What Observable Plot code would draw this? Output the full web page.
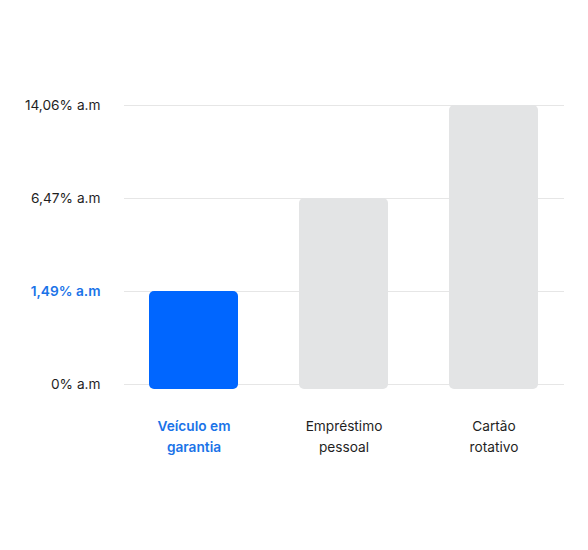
<!DOCTYPE html>
<html>
<head>
<meta charset="utf-8">
<script src="https://cdn.jsdelivr.net/npm/d3@7"></script>
<script src="https://cdn.jsdelivr.net/npm/@observablehq/plot@0.6"></script>
<style>
  html, body { margin: 0; padding: 0; background: #fff; }
  #chart svg { display: block; }
</style>
</head>
<body>
<div id="chart"></div>
<script>
const categories = ["Veículo em\ngarantia", "Empréstimo\npessoal", "Cartão\nrotativo"];
const rates = [1.49, 6.47, 14.06];
const tickValues = [0, 1.49, 6.47, 14.06];
const tickLabels = ["0% a.m", "1,49% a.m", "6,47% a.m", "14,06% a.m"];
const highlighted = "Veículo em\ngarantia";

const BLUE = "#0066ff";
const BLUE_TEXT = "#1a73e8";
const GRAY = "#e3e4e5";
const INK = "#1f1f1f";

const bars = categories.map((c, i) => ({category: c, rate: rates[i]}));
const ticks = tickValues.map((v, i) => ({value: v, label: tickLabels[i], hl: v === rates[0]}));

const chart = Plot.plot({
  width: 588,
  height: 550,
  marginLeft: 124,
  marginRight: 24,
  marginTop: 105,
  marginBottom: 166,
  style: {fontFamily: "Inter, sans-serif", fontSize: "13.7px", background: "#fff"},
  x: {domain: categories, type: "band", paddingInner: 0.404, paddingOuter: 0.159, axis: null},
  // evenly spaced value levels, as in the original (non-linear) axis
  y: {type: "point", domain: tickValues, reverse: true, padding: 0, axis: null},
  marks: [
    Plot.ruleY(tickValues, {stroke: "#e6e6e6", strokeWidth: 1}),
    Plot.barY(bars, {
      x: "category", y1: () => 0, y2: "rate",
      fill: d => d.category === highlighted ? BLUE : GRAY,
      rx: 5, insetBottom: -5
    }),
    Plot.text(ticks.filter(d => !d.hl), {
      y: "value", text: "label", frameAnchor: "left", textAnchor: "end",
      dx: -24, fill: INK, fontSize: 13.7
    }),
    Plot.text(ticks.filter(d => d.hl), {
      y: "value", text: "label", frameAnchor: "left", textAnchor: "end",
      dx: -24, fill: BLUE_TEXT, fontSize: 13.7, fontWeight: 600
    }),
    Plot.text(bars.filter(d => d.category !== highlighted), {
      x: "category", y: () => 0, text: "category", lineAnchor: "top",
      dy: 31, lineHeight: 1.55, fill: INK, fontSize: 13.7
    }),
    Plot.text(bars.filter(d => d.category === highlighted), {
      x: "category", y: () => 0, text: "category", lineAnchor: "top",
      dy: 31, lineHeight: 1.55, fill: BLUE_TEXT, fontSize: 13.7, fontWeight: 600
    })
  ]
});
document.getElementById("chart").appendChild(chart);
</script>
</body>
</html>
